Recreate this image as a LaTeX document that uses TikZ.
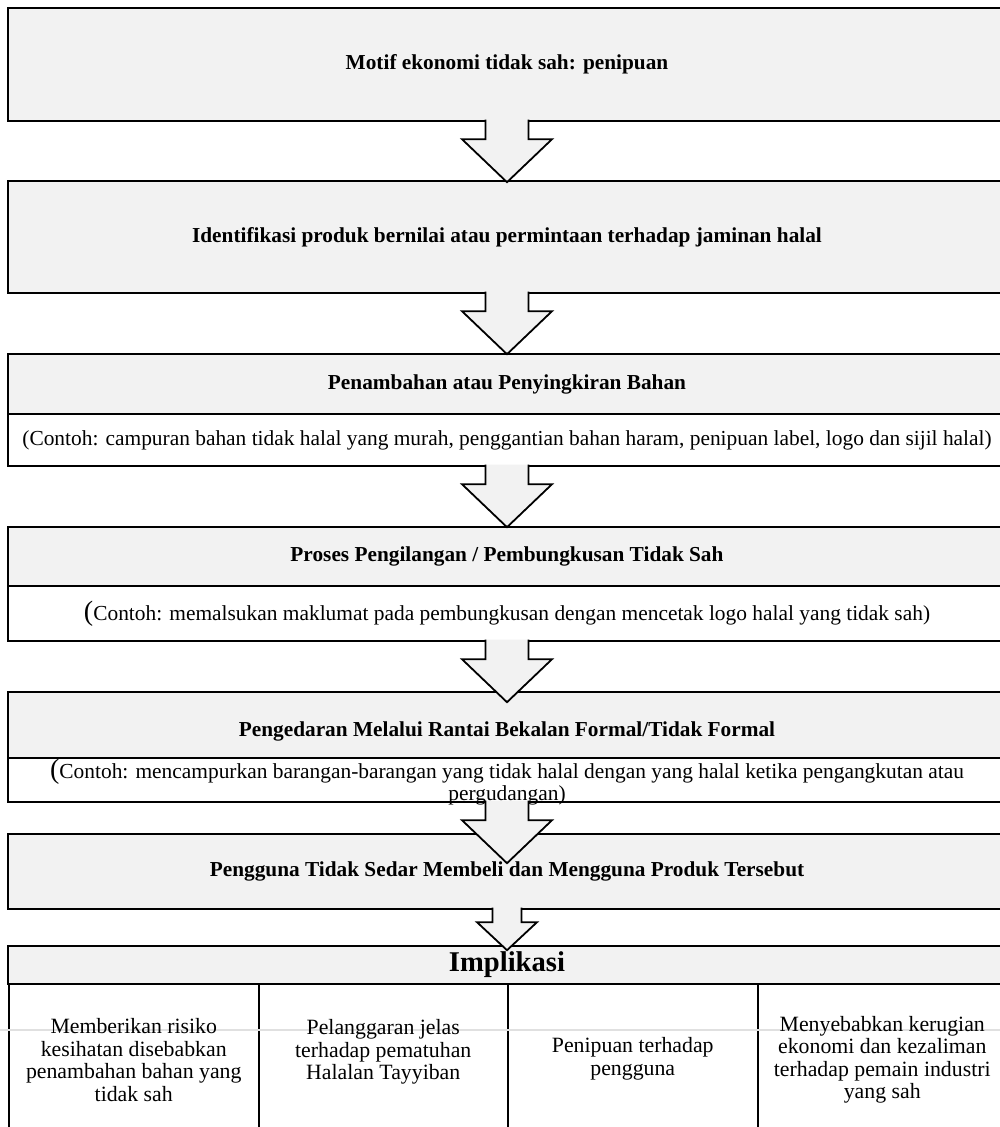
\documentclass[tikz,border=0pt]{standalone}
\usepackage{fontspec}
\setmainfont{Liberation Serif}
\usetikzlibrary{calc}
\definecolor{boxgray}{HTML}{F2F2F2}
\tikzset{
  gbox/.style={draw=black, line width=2.2pt, fill=boxgray, minimum width=998pt, inner sep=0pt, anchor=north},
  wbox/.style={gbox, fill=white},
  headtxt/.style={font=\fontsize{21.3}{25}\selectfont\bfseries},
  subtxt/.style={font=\fontsize{21.4}{22}\selectfont, align=center},
  coltxt/.style={font=\fontsize{21.8}{22.5}\selectfont, align=center},
  colbox/.style={draw=black, line width=2pt, fill=white, minimum width=249.5pt, minimum height=160pt, inner sep=0pt, anchor=north west},
  barrow/.style={draw=black, line width=1.8pt, fill=boxgray, line join=miter},
}
% from node, tip name, shaft half width, head half width, shaft length, head length
\newcommand\blockarr[6]{%
  \draw[barrow] ($(#1.south)+(-#3,-2.5)$) -- ($(#1.south)+(-#3,#5)$) -- ($(#1.south)+(-#4,#5)$)
    -- ($(#1.south)+(0,#5+#6)$) coordinate (#2)
    -- ($(#1.south)+(#4,#5)$) -- ($(#1.south)+(#3,#5)$) -- ($(#1.south)+(#3,-2.5)$);}
\begin{document}
\begin{tikzpicture}[x=1pt,y=-1pt]
\useasboundingbox (0,0) rectangle (1000,1127);
\clip (0,0) rectangle (1000,1127);
\fill[white] (0,0) rectangle (1000,1127);

% box 1
\node[gbox, minimum height=113pt, headtxt] (b1) at (507,7) {Motif ekonomi tidak sah: penipuan};
% box 2
\node[gbox, minimum height=112pt, headtxt] (b2) at (507,180) {Identifikasi produk bernilai atau permintaan terhadap jaminan halal};
% box 3
\node[gbox, minimum height=60pt, headtxt] (b3h) at (507,353) {Penambahan atau Penyingkiran Bahan};
\node[wbox, minimum height=52pt, subtxt] (b3s) at (507,413) {(Contoh: campuran bahan tidak halal yang murah, penggantian bahan haram, penipuan label, logo dan sijil halal)};
% box 4
\node[gbox, minimum height=59pt, headtxt] (b4h) at (507,526) {Proses Pengilangan / Pembungkusan Tidak Sah};
\node[wbox, minimum height=55pt, subtxt] (b4s) at (507,585) {{\fontsize{28}{28}\selectfont(}Contoh: memalsukan maklumat pada pembungkusan dengan mencetak logo halal yang tidak sah)};
% box 5
\node[gbox, minimum height=66pt] (b5h) at (507,691) {};
\node[headtxt] (t5h) at (507,731) {Pengedaran Melalui Rantai Bekalan Formal/Tidak Formal};
\node[wbox, minimum height=44pt] (b5s) at (507,757) {};
% box 6
\node[gbox, minimum height=75pt, headtxt] (b6) at (507,833) {Pengguna Tidak Sedar Membeli dan Mengguna Produk Tersebut};
% implikasi
\node[gbox, minimum height=38pt, font=\fontsize{28.6}{30}\selectfont\bfseries] (b7) at (507,945) {Implikasi};
\node[colbox] (c1) at (8,983) {};
\node[colbox] (c2) at (257.5,983) {};
\node[colbox] (c3) at (507,983) {};
\node[colbox] (c4) at (756.5,983) {};

% arrows
\blockarr{b1}{tip1}{21.5}{45}{17}{43}
\blockarr{b2}{tip2}{21.5}{45}{17}{43}
\blockarr{b3s}{tip3}{21.5}{45}{17}{43}
\blockarr{b4s}{tip4}{21.5}{45}{17}{43}
\blockarr{b5s}{tip5}{21.5}{45}{17}{43}
\blockarr{b6}{tip6}{14.5}{30}{12}{28}

% text of box 5 sub row (lies over the arrow shaft)
\node[subtxt] (t5s) at (507,782) {{\fontsize{28}{28}\selectfont(}Contoh: mencampurkan barangan-barangan yang tidak halal dengan yang halal ketika pengangkutan atau\\pergudangan)};

% faint line
\draw[black!12, line width=1.5pt] (0,1030) -- (1000,1030);

% column texts
\node[coltxt] (t1) at (c1.north |- 0,1060) {Memberikan risiko\\kesihatan disebabkan\\penambahan bahan yang\\tidak sah};
\node[coltxt] (t2) at (c2.north |- 0,1052) {Pelanggaran jelas\\terhadap pematuhan\\Halalan Tayyiban};
\node[coltxt] (t3) at (c3.north |- 0,1059) {Penipuan terhadap\\pengguna};
\node[coltxt] (t4) at (c4.north |- 0,1060) {Menyebabkan kerugian\\ekonomi dan kezaliman\\terhadap pemain industri\\yang sah};
\end{tikzpicture}
\end{document}
